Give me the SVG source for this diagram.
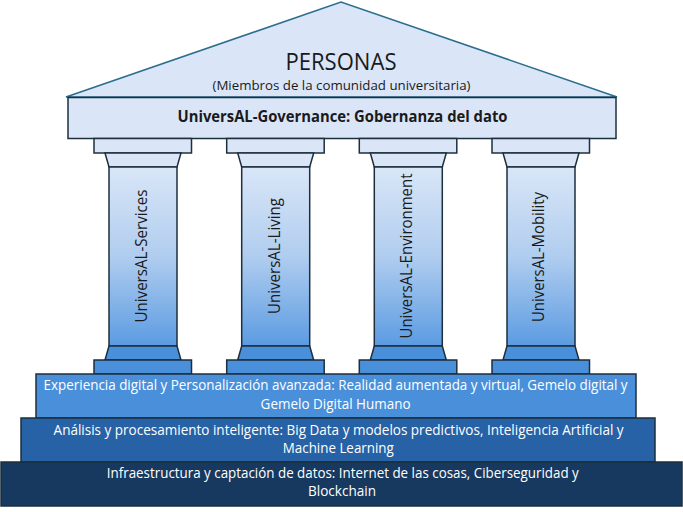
<svg xmlns="http://www.w3.org/2000/svg" width="683" height="512" viewBox="0 0 683 512">
  <defs>
    <linearGradient id="shaftGrad" x1="0" y1="0" x2="0" y2="1">
      <stop offset="0" stop-color="#d9e6f7"/>
      <stop offset="0.5" stop-color="#b0cdef"/>
      <stop offset="1" stop-color="#5b9be2"/>
    </linearGradient>
    <style>
      .light { fill: #dae6f7; stroke: #1d2f3c; stroke-width: 1.5; }
      .shaft { fill: url(#shaftGrad); stroke: #1d2f3c; stroke-width: 1.5; }
      .mid { fill: #4a8fda; stroke: #1d2f3c; stroke-width: 1.5; }
      .t { font-family: "Open Sans", "Noto Sans", "Liberation Sans", sans-serif; text-anchor: middle; }
      .dark { fill: #1a1a1a; }
      .white { fill: #ffffff; font-size: 14px; }
      .col { font-size: 17px; fill: #1a1a1a; }
    </style>
  </defs>

  <g id="pediment">
    <polygon points="66,97 341,2 617,97" fill="#dae6f7" stroke="#2b6e8d" stroke-width="1.6"/>
    <text class="t dark" x="341" y="70" font-size="24" textLength="111" lengthAdjust="spacingAndGlyphs">PERSONAS</text>
    <text class="t dark" x="341.5" y="90" font-size="13.5" textLength="258" lengthAdjust="spacingAndGlyphs">(Miembros de la comunidad universitaria)</text>
  </g>

  <g id="governance">
    <rect class="light" x="68" y="97.5" width="548" height="41"/>
    <text class="t dark" x="342.5" y="122" font-size="16" font-weight="bold" textLength="330" lengthAdjust="spacingAndGlyphs">UniversAL-Governance: Gobernanza del dato</text>
  </g>

  <g id="pillar-services">
    <rect class="light" x="94" y="138.5" width="97.5" height="14.5"/>
    <polygon class="light" points="105,153 181,153 177,167 109,167"/>
    <rect class="shaft" x="109" y="167" width="68" height="179"/>
    <polygon class="mid" points="109,346 177,346 181,360 105,360"/>
    <rect class="mid" x="94" y="360" width="97.5" height="14"/>
    <text class="t col" transform="translate(146.5,256) rotate(-90)" textLength="133" lengthAdjust="spacingAndGlyphs">UniversAL-Services</text>
  </g>

  <g id="pillar-living">
    <rect class="light" x="226.7" y="138.5" width="97.5" height="14.5"/>
    <polygon class="light" points="237.7,153 313.7,153 309.7,167 241.7,167"/>
    <rect class="shaft" x="241.7" y="167" width="68" height="179"/>
    <polygon class="mid" points="241.7,346 309.7,346 313.7,360 237.7,360"/>
    <rect class="mid" x="226.7" y="360" width="97.5" height="14"/>
    <text class="t col" transform="translate(280,256) rotate(-90)" textLength="116" lengthAdjust="spacingAndGlyphs">UniversAL-Living</text>
  </g>

  <g id="pillar-environment">
    <rect class="light" x="359.3" y="138.5" width="97.5" height="14.5"/>
    <polygon class="light" points="370.3,153 446.3,153 442.3,167 374.3,167"/>
    <rect class="shaft" x="374.3" y="167" width="68" height="179"/>
    <polygon class="mid" points="374.3,346 442.3,346 446.3,360 370.3,360"/>
    <rect class="mid" x="359.3" y="360" width="97.5" height="14"/>
    <text class="t col" transform="translate(411.5,256) rotate(-90)" textLength="165" lengthAdjust="spacingAndGlyphs">UniversAL-Environment</text>
  </g>

  <g id="pillar-mobility">
    <rect class="light" x="492" y="138.5" width="97.5" height="14.5"/>
    <polygon class="light" points="503,153 579,153 575,167 507,167"/>
    <rect class="shaft" x="507" y="167" width="68" height="179"/>
    <polygon class="mid" points="507,346 575,346 579,360 503,360"/>
    <rect class="mid" x="492" y="360" width="97.5" height="14"/>
    <text class="t col" transform="translate(544,257) rotate(-90)" textLength="130" lengthAdjust="spacingAndGlyphs">UniversAL-Mobility</text>
  </g>

  <g id="tier-experiencia">
    <rect x="36" y="374" width="600" height="44" fill="#4a8fda" stroke="#1d2f3c" stroke-width="1.5"/>
    <text class="t white" x="335.6" y="390" textLength="584" lengthAdjust="spacingAndGlyphs">Experiencia digital y Personalización avanzada: Realidad aumentada y virtual, Gemelo digital y</text>
    <text class="t white" x="335.6" y="409" textLength="150" lengthAdjust="spacingAndGlyphs">Gemelo Digital Humano</text>
  </g>

  <g id="tier-analisis">
    <rect x="21" y="418" width="634" height="44" fill="#2762a6" stroke="#1d2f3c" stroke-width="1.5"/>
    <text class="t white" x="338.6" y="434.5" textLength="570" lengthAdjust="spacingAndGlyphs">Análisis y procesamiento inteligente: Big Data y modelos predictivos, Inteligencia Artificial y</text>
    <text class="t white" x="338.3" y="453" textLength="111" lengthAdjust="spacingAndGlyphs">Machine Learning</text>
  </g>

  <g id="tier-infraestructura">
    <rect x="1" y="462" width="681" height="44" fill="#17395f" stroke="#1d2f3c" stroke-width="1.5"/>
    <text class="t white" x="342.8" y="477.5" textLength="472" lengthAdjust="spacingAndGlyphs">Infraestructura y captación de datos: Internet de las cosas, Ciberseguridad y</text>
    <text class="t white" x="342" y="496" textLength="68" lengthAdjust="spacingAndGlyphs">Blockchain</text>
  </g>

  <g id="connectors"></g>
</svg>
